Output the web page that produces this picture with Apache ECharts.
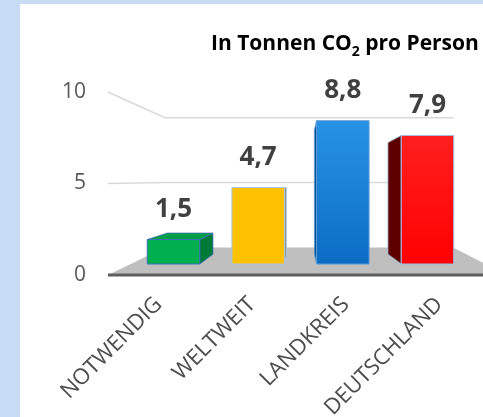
<!DOCTYPE html>
<html>
<head>
<meta charset="utf-8">
<script src="https://cdn.jsdelivr.net/npm/echarts@6/dist/echarts.min.js"></script>
<style>
  html, body { margin: 0; padding: 0; background: #ffffff; }
  #chart { width: 483px; height: 417px; }
</style>
</head>
<body>
<div id="chart"></div>
<script>
// ---- data ----
const categories = ['NOTWENDIG', 'WELTWEIT', 'LANDKREIS', 'DEUTSCHLAND'];
const values = [1.5, 4.7, 8.8, 7.9];
const valueLabels = ['1,5', '4,7', '8,8', '7,9'];
const yMin = 0, yMax = 10, yInterval = 5;
const gridTicks = [5, 10];
const titleParts = ['In Tonnen CO', '2', ' pro Person'];

// ---- styles ----
const faceStyles = [
  { front: '#00b050', side: '#007a38', top: '#00a04a', stroke: '#3d6fb5' },
  { front: '#ffc000', side: '#8f9a78', top: '#f0b400', stroke: '#a9c6ea' },
  { front: ['#2793e6', '#0b6cc4'], side: '#0a4f8f', top: '#2a8fe0', stroke: '#5b9bd5' },
  { front: ['#ff1f1f', '#ff0000'], side: '#5c0000', top: '#e00000', stroke: '#9dc3e6' }
];

const chart = echarts.init(document.getElementById('chart'), null, { renderer: 'canvas' });

// pseudo-3D projection helpers (scale toward a vanishing point given as fractions of grid rect)
function makeProj(cs, fx, fy, sx, sy) {
  const vx = cs.x + fx * cs.width, vy = cs.y + fy * cs.height;
  return p => [vx + sx * (p[0] - vx), vy + sy * (p[1] - vy)];
}

function wallsRender(params, api) {
  const cs = params.coordSys;
  const x0 = api.coord([0, 0])[0];
  const band = api.size([1, 0])[0];
  const xc = c => x0 + c * band;
  const yv = v => api.coord([0, v])[1];
  const W = makeProj(cs, 0.537, 0.483, 0.722, 0.709);
  const cL = -0.543, cR = 3.725;
  const fl = [xc(cL), yv(0)], fr = [xc(cR), yv(0)];
  const children = [];
  children.push({
    type: 'polygon',
    shape: { points: [fl, fr, W(fr), W(fl)] },
    style: { fill: '#bfbfbf' }
  });
  children.push({
    type: 'line',
    shape: { x1: fl[0], y1: fl[1], x2: fr[0], y2: fr[1] },
    style: { stroke: '#5e5e5e', lineWidth: 3 }
  });
  gridTicks.forEach(v => {
    const a = [xc(cL), yv(v)], b = [xc(cR), yv(v)];
    children.push({
      type: 'polyline',
      shape: { points: [a, W(a), W(b)] },
      style: { stroke: '#d9d9d9', lineWidth: 1.5, fill: null }
    });
  });
  return { type: 'group', children };
}

function barRender(params, api) {
  const cs = params.coordSys;
  const i = api.value(0), v = api.value(1);
  const base = api.coord([i, 0]);
  const topP = api.coord([i, v]);
  const band = api.size([1, 0])[0];
  const w = band * 0.62;
  const P1 = makeProj(cs, 0.542, 0.456, 0.9055, 0.8896); // bar front plane
  const fTL = P1([base[0] - w / 2, topP[1]]);
  const fTR = P1([base[0] + w / 2, topP[1]]);
  const fBR = P1([base[0] + w / 2, base[1]]);
  const fBL = P1([base[0] - w / 2, base[1]]);
  // back face: scale toward vanishing point in screen space
  const vx = cs.x + 0.503 * cs.width, vy = cs.y + 0.536 * cs.height, s2 = 0.8685;
  const B = p => [vx + s2 * (p[0] - vx), vy + s2 * (p[1] - vy)];
  const bTL = B(fTL), bTR = B(fTR), bBR = B(fBR), bBL = B(fBL);
  const st = faceStyles[i];
  const children = [];
  if (bTR[0] > fTR[0] + 0.3) {
    children.push({ type: 'polygon', shape: { points: [fTR, bTR, bBR, fBR] },
      style: { fill: st.side, stroke: st.stroke, lineWidth: 0.8 } });
  }
  if (bTL[0] < fTL[0] - 0.3) {
    children.push({ type: 'polygon', shape: { points: [fTL, bTL, bBL, fBL] },
      style: { fill: st.side, stroke: st.stroke, lineWidth: 0.8 } });
  }
  if (bTL[1] < fTL[1] - 0.3) {
    children.push({ type: 'polygon', shape: { points: [fTL, fTR, bTR, bTL] },
      style: { fill: st.top, stroke: st.stroke, lineWidth: 0.8 } });
  }
  const fill = Array.isArray(st.front)
    ? new echarts.graphic.LinearGradient(0, 0, 0, 1, [
        { offset: 0, color: st.front[0] }, { offset: 1, color: st.front[1] }])
    : st.front;
  children.push({ type: 'polygon', shape: { points: [fTL, fTR, fBR, fBL] },
    style: { fill: fill, stroke: st.stroke, lineWidth: 1 } });
  children.push({
    type: 'text',
    x: (fTL[0] + fTR[0]) / 2,
    y: fTL[1] - 30,
    style: {
      text: valueLabels[i],
      fill: '#404040',
      font: 'bold 26px "Open Sans"',
      align: 'center',
      verticalAlign: 'middle'
    }
  });
  return { type: 'group', children };
}

const option = {
  animation: false,
  backgroundColor: '#ffffff',
  textStyle: { fontFamily: 'Open Sans' },
  title: {
    text: '{a|' + titleParts[0] + '}{s|' + titleParts[1] + '}{a|' + titleParts[2] + '}',
    left: 206,
    top: 22,
    textStyle: {
      rich: {
        a: { fontFamily: 'Open Sans', fontWeight: 'bold', fontSize: 21, color: '#000000', lineHeight: 28, verticalAlign: 'bottom' },
        s: { fontFamily: 'Open Sans', fontWeight: 'bold', fontSize: 14, color: '#000000', lineHeight: 28, verticalAlign: 'bottom', padding: [0, 0, -4, 0] }
      }
    }
  },
  graphic: [
    { type: 'rect', left: 0, top: 0, shape: { width: 20, height: 417 }, style: { fill: '#c7dbf5' }, z: 0 },
    { type: 'rect', left: 0, top: 0, shape: { width: 483, height: 4 }, style: { fill: '#c7dbf5' }, z: 0 }
  ],
  grid: { left: 112, right: -3, top: 92, bottom: 142, containLabel: false, outerBoundsMode: 'none' },
  xAxis: {
    type: 'category',
    data: categories,
    axisLine: { show: false },
    axisTick: { show: false },
    splitLine: { show: false },
    axisLabel: { interval: 0, rotate: 45, margin: 26, fontSize: 22, color: '#4d4d4d', fontFamily: 'Open Sans' }
  },
  yAxis: {
    type: 'value',
    min: yMin, max: yMax, interval: yInterval,
    axisLine: { show: false },
    axisTick: { show: false },
    splitLine: { show: false },
    axisLabel: { margin: 26, fontSize: 21, color: '#595959', fontFamily: 'Open Sans' }
  },
  series: [
    { type: 'custom', z: 1, renderItem: wallsRender, data: [[0, 0]], silent: true },
    { type: 'custom', z: 2, renderItem: barRender, data: values.map((v, i) => [i, v]), silent: true }
  ]
};
chart.setOption(option);
</script>
</body>
</html>
